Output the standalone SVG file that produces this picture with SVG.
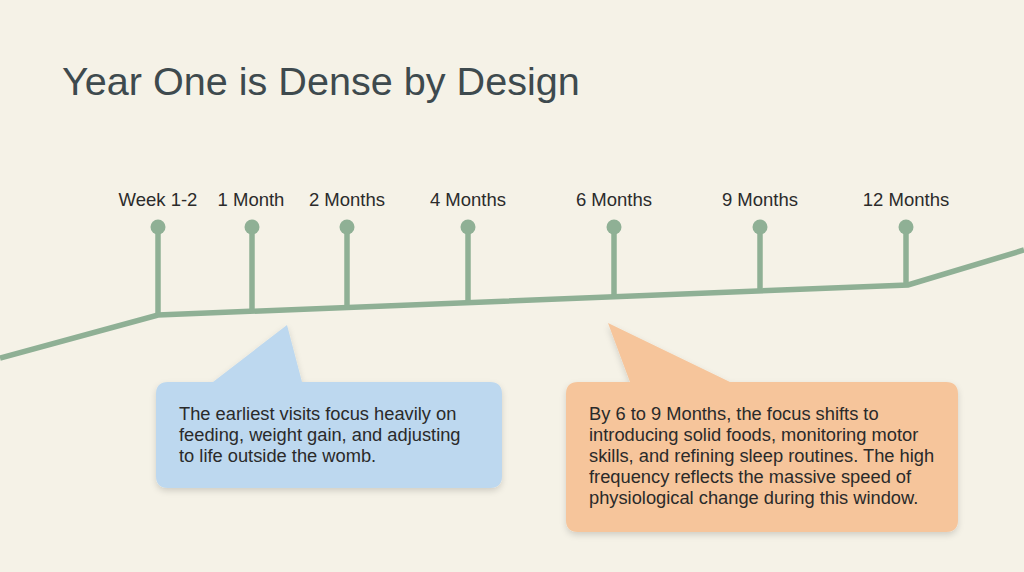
<svg xmlns="http://www.w3.org/2000/svg" width="1024" height="572" viewBox="0 0 1024 572">
<defs>
<style>
.lbl{font-family:"Liberation Sans",Arial,sans-serif;font-size:18.5px;fill:#2b2b2b;text-anchor:middle}
.body{font-family:"Liberation Sans",Arial,sans-serif;font-size:18.3px;fill:#2a2a2a}
.stem{stroke:#8fb095;stroke-width:5.5;fill:none}
.dot{fill:#8fb095}
</style>
<filter id="sh" x="-10%" y="-10%" width="120%" height="130%">
<feDropShadow dx="0" dy="3" stdDeviation="3" flood-color="#000" flood-opacity="0.15"/>
</filter>
</defs>
<rect width="1024" height="572" fill="#f5f2e7"/>
<text x="62" y="95" font-family="'Liberation Sans',Arial,sans-serif" font-size="39.6" fill="#3e4a4e">Year One is Dense by Design</text>
<g id="connectors">
<polyline class="stem" stroke-width="6" points="0,358 158,315 908,285 1024,250"/>
</g>
<g id="m0"><line class="stem" x1="158" y1="227" x2="158" y2="315"/><circle class="dot" cx="158" cy="227" r="7.5"/><text class="lbl" x="158" y="206">Week 1-2</text></g>
<g id="m1"><line class="stem" x1="252" y1="227" x2="252" y2="311"/><circle class="dot" cx="252" cy="227" r="7.5"/><text class="lbl" x="251" y="206">1 Month</text></g>
<g id="m2"><line class="stem" x1="347" y1="227" x2="347" y2="307"/><circle class="dot" cx="347" cy="227" r="7.5"/><text class="lbl" x="347" y="206">2 Months</text></g>
<g id="m4"><line class="stem" x1="468" y1="227" x2="468" y2="302"/><circle class="dot" cx="468" cy="227" r="7.5"/><text class="lbl" x="468" y="206">4 Months</text></g>
<g id="m6"><line class="stem" x1="614" y1="227" x2="614" y2="297"/><circle class="dot" cx="614" cy="227" r="7.5"/><text class="lbl" x="614" y="206">6 Months</text></g>
<g id="m9"><line class="stem" x1="760" y1="227" x2="760" y2="291"/><circle class="dot" cx="760" cy="227" r="7.5"/><text class="lbl" x="760" y="206">9 Months</text></g>
<g id="m12"><line class="stem" x1="906" y1="227" x2="906" y2="285"/><circle class="dot" cx="906" cy="227" r="7.5"/><text class="lbl" x="906" y="206">12 Months</text></g>
<g id="callout-blue">
<path d="M168,382 L213,382 L287,325 L302,382 L490,382 Q502,382 502,394 L502,476 Q502,488 490,488 L168,488 Q156,488 156,476 L156,394 Q156,382 168,382 Z" fill="#bdd8ef" filter="url(#sh)"/>
<text class="body" x="179" y="420">The earliest visits focus heavily on</text>
<text class="body" x="179" y="441">feeding, weight gain, and adjusting</text>
<text class="body" x="179" y="462">to life outside the womb.</text>
</g>
<g id="callout-orange">
<path d="M578,382 L630,382 L608,323 L730,382 L946,382 Q958,382 958,394 L958,520 Q958,532 946,532 L578,532 Q566,532 566,520 L566,394 Q566,382 578,382 Z" fill="#f6c59b" filter="url(#sh)"/>
<text class="body" x="589" y="420">By 6 to 9 Months, the focus shifts to</text>
<text class="body" x="589" y="441">introducing solid foods, monitoring motor</text>
<text class="body" x="589" y="462">skills, and refining sleep routines. The high</text>
<text class="body" x="589" y="483">frequency reflects the massive speed of</text>
<text class="body" x="589" y="504">physiological change during this window.</text>
</g>
</svg>
